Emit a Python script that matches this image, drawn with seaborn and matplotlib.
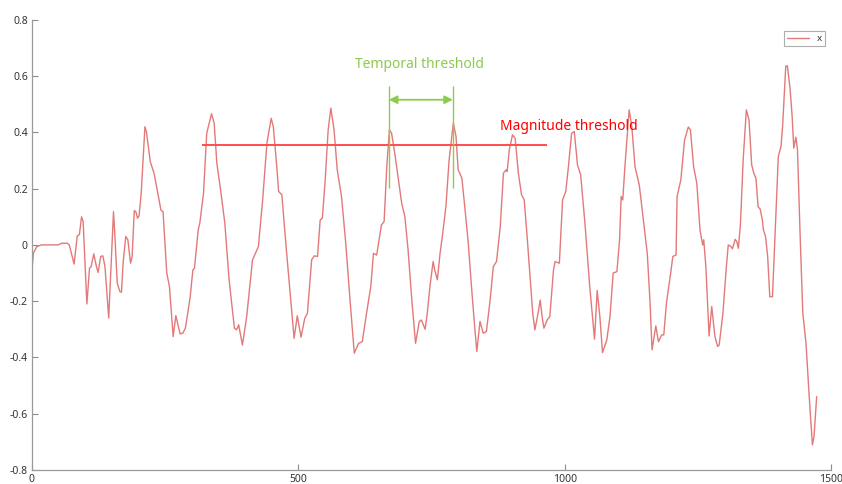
import numpy as np
import pandas as pd
import matplotlib
matplotlib.use("Agg")
import matplotlib.pyplot as plt
import seaborn as sns

# signal vertices (sample index, value)
t = [0, 2.5, 9, 18, 49, 56, 66, 70, 79, 85, 89, 93, 96, 103, 108, 111, 116, 121, 124,
     129, 133, 137, 144, 148, 153, 156, 160, 165, 168, 171, 176, 180, 185, 188, 192, 195,
     198, 201, 205, 212, 215, 222, 229, 235, 242, 246, 253, 258, 265, 270, 278, 283, 288,
     297, 302, 305, 312, 315, 322, 328, 337, 342, 347, 354, 362, 370, 380, 384, 388, 395,
     403, 414, 419, 425, 433, 441, 449, 453, 459, 463, 469, 477, 484, 492, 498, 505, 512,
     517, 525, 530, 536, 541, 545, 550, 556, 561, 567, 573, 581, 589, 597, 605, 613, 620,
     628, 636, 641, 647, 656, 661, 666, 671, 675, 681, 688, 694, 700, 706, 713, 720, 727,
     731, 738, 742, 747, 753, 756, 761, 766, 771, 777, 783, 791, 796, 800, 807, 813, 819,
     825, 830, 835, 841, 847, 853, 860, 866, 872, 879, 885, 890, 892, 896, 902, 907, 913,
     919, 924, 929, 935, 940, 944, 950, 954, 958, 961, 967, 972, 979, 982, 990, 996, 1002,
     1007, 1013, 1018, 1024, 1030, 1038, 1047, 1056, 1061, 1066, 1071, 1079, 1085, 1091,
     1098, 1103, 1106, 1109, 1113, 1121, 1126, 1132, 1140, 1147, 1155, 1160, 1164, 1171,
     1176, 1182, 1186, 1191, 1198, 1203, 1209, 1211, 1218, 1225, 1232, 1236, 1242, 1248,
     1254, 1259, 1261, 1265, 1271, 1276, 1282, 1287, 1290, 1297, 1303, 1307, 1312, 1315,
     1320, 1323, 1326, 1330, 1335, 1341, 1346, 1351, 1355, 1359, 1363, 1367, 1371, 1373,
     1377, 1381, 1385, 1390, 1395, 1401, 1406, 1409, 1415, 1418, 1423, 1427, 1430, 1434,
     1437, 1442, 1447, 1453, 1459, 1465, 1468, 1473]
x = [-0.089, -0.03, -0.006, 0.0, 0.0, 0.006, 0.006, 0.0, -0.068, 0.032, 0.037, 0.10, 0.083,
     -0.21, -0.083, -0.077, -0.032, -0.077, -0.098, -0.041, -0.039, -0.077, -0.26, -0.089,
     0.118, 0.018, -0.136, -0.166, -0.168, -0.065, 0.03, 0.018, -0.065, -0.041, 0.122, 0.118,
     0.095, 0.103, 0.184, 0.42, 0.40, 0.296, 0.255, 0.196, 0.124, 0.118, -0.10, -0.148,
     -0.326, -0.251, -0.316, -0.314, -0.296, -0.184, -0.089, -0.083, 0.053, 0.077, 0.184,
     0.397, 0.466, 0.433, 0.29, 0.196, 0.077, -0.124, -0.296, -0.302, -0.284, -0.356,
     -0.255, -0.053, -0.032, -0.006, 0.16, 0.362, 0.45, 0.42, 0.29, 0.19, 0.178, -0.006,
     -0.16, -0.332, -0.252, -0.328, -0.261, -0.243, -0.053, -0.039, -0.041, 0.089, 0.095,
     0.219, 0.409, 0.486, 0.409, 0.267, 0.172, 0.006, -0.196, -0.385, -0.35, -0.344,
     -0.243, -0.148, -0.03, -0.036, 0.071, 0.083, 0.278, 0.409, 0.397, 0.326, 0.231, 0.148,
     0.10, -0.018, -0.196, -0.35, -0.272, -0.267, -0.30, -0.243, -0.148, -0.059, -0.089,
     -0.124, -0.03, 0.041, 0.136, 0.302, 0.433, 0.385, 0.267, 0.237, 0.124, 0.006, -0.148,
     -0.267, -0.379, -0.272, -0.314, -0.308, -0.196, -0.077, -0.059, 0.065, 0.255, 0.267,
     0.261, 0.338, 0.391, 0.379, 0.255, 0.178, 0.16, 0.041, -0.113, -0.243, -0.302, -0.243,
     -0.196, -0.261, -0.296, -0.267, -0.255, -0.089, -0.059, -0.065, 0.16, 0.19, 0.278,
     0.397, 0.403, 0.284, 0.249, 0.077, -0.148, -0.335, -0.162, -0.255, -0.383, -0.338,
     -0.255, -0.10, -0.095, 0.018, 0.172, 0.16, 0.278, 0.48, 0.42, 0.278, 0.213, 0.10,
     -0.03, -0.196, -0.373, -0.288, -0.344, -0.32, -0.32, -0.207, -0.113, -0.041, -0.036,
     0.172, 0.231, 0.373, 0.419, 0.409, 0.278, 0.219, 0.053, 0.0, 0.018, -0.077, -0.324,
     -0.219, -0.326, -0.361, -0.356, -0.243, -0.089, 0.0, -0.006, -0.014, 0.02, 0.012,
     -0.012, 0.077, 0.302, 0.48, 0.444, 0.284, 0.255, 0.237, 0.136, 0.127, 0.089, 0.053,
     0.03, -0.041, -0.184, -0.184, 0.041, 0.314, 0.35, 0.42, 0.636, 0.636, 0.557, 0.456,
     0.344, 0.383, 0.338, 0.03, -0.243, -0.35, -0.539, -0.711, -0.681, -0.539]

# annotation values
mag_thresh = 0.356
mag_span = [319, 967]
temp_marks = [670, 790]
temp_span_y = [0.203, 0.565]
arrow_y = 0.516

df = pd.DataFrame({"t": t, "x": x})

sns.set_style("ticks")
plt.rcParams['font.family'] = ['Noto Sans', 'DejaVu Sans']

fig = plt.figure(figsize=(8.42, 4.84), dpi=100)
ax = fig.add_axes([0.038, 0.029, 0.949, 0.930])

sns.lineplot(data=df, x="t", y="x", sort=False, ax=ax, color="#E06A6A",
             linewidth=1.0, alpha=0.9, label="x")

# magnitude threshold
ax.hlines(mag_thresh, mag_span[0], mag_span[1], color="#FF4D4D", linewidth=1.4)
ax.text(878, 0.41, "Magnitude threshold", color="#FF0000", fontsize=10)

# temporal threshold
green = "#8CCB4E"
ax.vlines(temp_marks, temp_span_y[0], temp_span_y[1], color=green, linewidth=1.0)
ax.annotate("", xy=(temp_marks[0], arrow_y), xytext=(temp_marks[1], arrow_y),
            arrowprops=dict(arrowstyle="<|-|>", color=green, lw=1.3,
                            mutation_scale=12, shrinkA=0, shrinkB=0))
ax.text(727, 0.63, "Temporal threshold", color=green, fontsize=10, ha="center")

ax.set_xlim(0, 1500)
ax.set_ylim(-0.8, 0.8)
ax.set_xticks([0, 500, 1000, 1500])
ax.set_yticks(np.round(np.arange(-0.8, 0.81, 0.2), 1))
ax.set_yticklabels(["-0.8", "-0.6", "-0.4", "-0.2", "0", "0.2", "0.4", "0.6", "0.8"])
ax.set_xlabel("")
ax.set_ylabel("")
ax.tick_params(direction="in", length=4, width=0.8, colors="#8C8C8C",
               labelcolor="#333333", labelsize=7.5, pad=3)
sns.despine(ax=ax)
for s in ["left", "bottom"]:
    ax.spines[s].set_color("#9A9A9A")
    ax.spines[s].set_linewidth(0.9)

leg = ax.legend(loc="upper right", fontsize=7, handlelength=2.2, frameon=True,
                fancybox=False, borderpad=0.3, bbox_to_anchor=(0.998, 0.985),
                labelcolor="#333333")
leg.get_frame().set_edgecolor("#9A9A9A")
leg.get_frame().set_linewidth(0.8)

plt.savefig("out.png", dpi=100)
